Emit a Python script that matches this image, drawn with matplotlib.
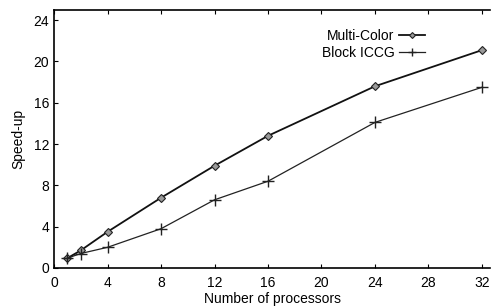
import matplotlib
matplotlib.use("Agg")
from matplotlib import pyplot as plt

plt.rcParams['font.family'] = ['Liberation Sans', 'DejaVu Sans']

procs = [1, 2, 4, 8, 12, 16, 24, 32]
multi_color = [0.95, 1.7, 3.5, 6.8, 9.9, 12.8, 17.6, 21.1]
block_iccg = [0.95, 1.4, 2.0, 3.8, 6.6, 8.4, 14.1, 17.5]
xticks = [0, 4, 8, 12, 16, 20, 24, 28, 32]
yticks = [0, 4, 8, 12, 16, 20, 24]

fig = plt.figure(figsize=(4.91, 3.08), dpi=100)
ax = fig.add_axes([0.110, 0.130, 0.888, 0.838])

ax.plot(procs, multi_color, color='#111111', lw=1.3, marker='D', ms=4,
        mfc='#999999', mec='#222222', mew=0.8, label='Multi-Color')
ax.plot(procs, block_iccg, color='#222222', lw=0.9, marker='+', ms=8,
        mew=1.0, label='Block ICCG')

ax.set_xlim(0, 32.6)
ax.set_ylim(0, 25)
ax.set_xticks(xticks)
ax.set_yticks(yticks)
ax.tick_params(direction='in', top=True, right=False, length=3, labelsize=10)
ax.tick_params(axis='x', pad=6)
ax.spines['right'].set_visible(False)
for s in ['left', 'bottom', 'top']:
    ax.spines[s].set_linewidth(1.2)

ax.set_xlabel('Number of processors', fontsize=10, labelpad=1)
ax.set_ylabel('Speed-up', fontsize=10, labelpad=6)

ax.legend(loc='upper right', bbox_to_anchor=(0.88, 0.975), frameon=False,
          markerfirst=False, fontsize=10, handlelength=1.9, handletextpad=0.3,
          labelspacing=0.2, markerscale=0.75)

fig.savefig('out.png', dpi=100)
